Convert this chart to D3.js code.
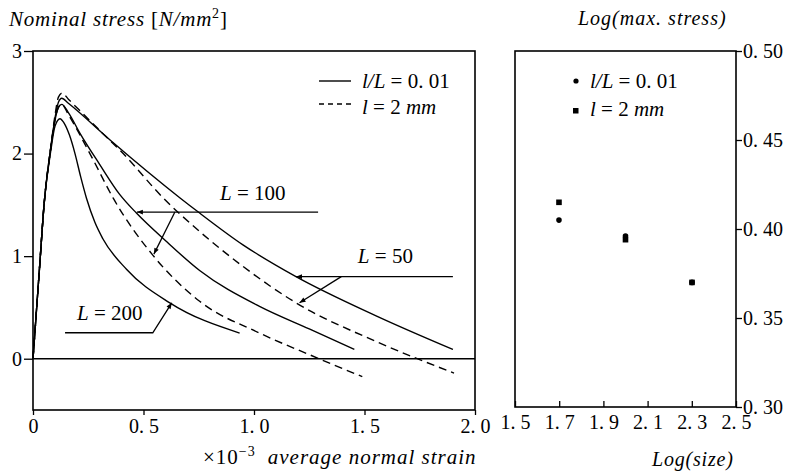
<!DOCTYPE html>
<html>
<head>
<meta charset="utf-8">
<script src="https://cdn.jsdelivr.net/npm/d3@7"></script>
<style>
  body { margin: 0; background: #fff; }
  svg { display: block; font-family: 'Liberation Serif', 'Times New Roman', serif; }
  .tick text { font-size: 20px; fill: #000; font-family: 'Liberation Serif', 'Times New Roman', serif; }
</style>
</head>
<body>
<div id="chart"></div>
<script>
// left panel: nominal stress vs average normal strain (x1e-3)
let strainTicks = [0, 0.5, 1.0, 1.5, 2.0]
let stressTicks = [0, 1, 2, 3]

// solid = l/L = 0.01, dashed = l = 2 mm (L=200 is the same for both)
let L50solid = [[0, 0], [0.03, 0.9], [0.05, 1.5], [0.08, 2.05], [0.1, 2.35], [0.115, 2.5], [0.13, 2.54], [0.16, 2.49], [0.35, 2.13], [0.664, 1.57], [0.754, 1.42], [0.95, 1.11], [1.19, 0.8], [1.55, 0.42], [1.9, 0.09]]
let L50dashed = [[0, 0], [0.03, 0.9], [0.05, 1.5], [0.08, 2.05], [0.1, 2.38], [0.115, 2.55], [0.132, 2.59], [0.16, 2.53], [0.3, 2.23], [0.408, 2.0], [0.588, 1.57], [0.754, 1.24], [0.95, 0.9], [1.19, 0.545], [1.55, 0.17], [1.905, -0.14]]
let L100solid = [[0, 0], [0.03, 0.9], [0.05, 1.5], [0.08, 2.05], [0.1, 2.33], [0.115, 2.45], [0.13, 2.48], [0.16, 2.4], [0.212, 2.2], [0.3, 1.9], [0.393, 1.6], [0.468, 1.42], [0.6, 1.15], [0.754, 0.86], [1.025, 0.51], [1.25, 0.29], [1.454, 0.09]]
let L100dashed = [[0, 0], [0.03, 0.9], [0.05, 1.5], [0.08, 2.05], [0.1, 2.33], [0.115, 2.45], [0.13, 2.48], [0.16, 2.38], [0.272, 1.94], [0.363, 1.565], [0.542, 1.01], [0.754, 0.56], [1.025, 0.25], [1.25, 0.04], [1.49, -0.175]]
let L200 = [[0, 0], [0.03, 0.9], [0.05, 1.5], [0.08, 2.02], [0.1, 2.27], [0.122, 2.34], [0.14, 2.3], [0.165, 2.18], [0.19, 2.0], [0.215, 1.78], [0.242, 1.565], [0.28, 1.33], [0.316, 1.17], [0.424, 0.87], [0.619, 0.545], [0.935, 0.25]]

// right panel: log(max stress) vs log(size)
let sizeTicks = [1.5, 1.7, 1.9, 2.1, 2.3, 2.5]
let logStressTicks = [0.30, 0.35, 0.40, 0.45, 0.50]
let logSize = [1.699, 2.0, 2.301]
let logMaxRatio = [0.405, 0.396, 0.370]   // l/L = 0.01
let logMax2mm = [0.415, 0.394, 0.370]     // l = 2 mm

let width = 790, height = 471

let svg = d3.select('#chart').append('svg')
    .attr('width', width)
    .attr('height', height)

svg.append('rect').attr('width', width).attr('height', height).attr('fill', '#fff')

let defs = svg.append('defs')
defs.append('marker')
    .attr('id', 'arrow')
    .attr('viewBox', '0 0 10 10')
    .attr('refX', 10).attr('refY', 5)
    .attr('markerWidth', 8).attr('markerHeight', 6)
    .attr('markerUnits', 'userSpaceOnUse')
    .attr('orient', 'auto')
    .append('path')
    .attr('d', 'M0,1L10,5L0,9Z')
    .attr('fill', '#000')

// ---------- left panel ----------
let x = d3.scaleLinear().domain([0, 2]).range([33, 475])
let y = d3.scaleLinear().domain([-0.5, 3]).range([410, 51])

let left = svg.append('g')

left.append('rect')
    .attr('x', x(0)).attr('y', y(3))
    .attr('width', x(2) - x(0)).attr('height', y(-0.5) - y(3))
    .attr('fill', 'none').attr('stroke', '#000').attr('stroke-width', 1.6)

left.append('line')
    .attr('x1', x(0)).attr('x2', x(2))
    .attr('y1', y(0)).attr('y2', y(0))
    .attr('stroke', '#000').attr('stroke-width', 1.6)

let yAxis = g => g
    .attr('transform', `translate(${x(0)},0)`)
    .call(d3.axisLeft(y).tickValues(stressTicks).tickSize(9).tickPadding(2).tickFormat(d3.format('d')))
    .call(g => g.select('.domain').remove())
    .attr('font-family', null).attr('font-size', null)

let xAxis = g => g
    .attr('transform', `translate(0,${y(-0.5)})`)
    .call(d3.axisBottom(x).tickValues(strainTicks).tickSize(5).tickPadding(4)
        .tickFormat(d => d === 0 ? '0' : d.toFixed(1).replace('.', '. ')))
    .call(g => g.select('.domain').remove())
    .attr('font-family', null).attr('font-size', null)

left.append('g').call(yAxis)
left.append('g').call(xAxis)
left.selectAll('.tick line').attr('stroke-width', 1.3)

let line = d3.line()
    .x(d => x(d[0]))
    .y(d => y(d[1]))
    .curve(d3.curveMonotoneX)

let curves = [
    { pts: L50solid, dash: null },
    { pts: L50dashed, dash: '8,5' },
    { pts: L100solid, dash: null },
    { pts: L100dashed, dash: '8,5' },
    { pts: L200, dash: null }
]

left.append('g').attr('class', 'curves')
    .selectAll('path')
    .data(curves)
    .enter().append('path')
    .attr('d', d => line(d.pts))
    .attr('fill', 'none')
    .attr('stroke', '#000')
    .attr('stroke-width', 1.4)
    .attr('stroke-dasharray', d => d.dash)

// legend
let legend = left.append('g')
legend.append('line').attr('x1', 319).attr('x2', 351).attr('y1', 81).attr('y2', 81)
    .attr('stroke', '#000').attr('stroke-width', 1.4)
legend.append('line').attr('x1', 319).attr('x2', 351).attr('y1', 104).attr('y2', 104)
    .attr('stroke', '#000').attr('stroke-width', 1.4).attr('stroke-dasharray', '5,4')

function ratioLabel(sel) {
    sel.append('tspan').attr('font-style', 'italic').text('l/L')
    sel.append('tspan').text(' = 0. 01')
}
function mmLabel(sel) {
    sel.append('tspan').attr('font-style', 'italic').text('l')
    sel.append('tspan').text(' = 2 ')
    sel.append('tspan').attr('font-style', 'italic').text('mm')
}

legend.append('text').attr('x', 362).attr('y', 88).attr('font-size', 21).call(ratioLabel)
legend.append('text').attr('x', 362).attr('y', 114).attr('font-size', 21).call(mmLabel)

// L labels with leader arrows
let notes = left.append('g').attr('stroke', '#000').attr('stroke-width', 1.3).attr('fill', 'none')

function lLabel(px, py, value) {
    let t = left.append('text').attr('x', x(px)).attr('y', y(py)).attr('font-size', 21)
    t.append('tspan').attr('font-style', 'italic').text('L')
    t.append('tspan').text(' = ' + value)
}

// L = 100
lLabel(0.846, 1.545, '100')
notes.append('line').attr('x1', x(1.29)).attr('y1', y(1.43)).attr('x2', x(0.47)).attr('y2', y(1.43)).attr('marker-end', 'url(#arrow)')
notes.append('line').attr('x1', x(0.642)).attr('y1', y(1.43)).attr('x2', x(0.547)).attr('y2', y(1.02)).attr('marker-end', 'url(#arrow)')

// L = 50
lLabel(1.47, 0.93, '50')
notes.append('line').attr('x1', x(1.9)).attr('y1', y(0.8)).attr('x2', x(1.19)).attr('y2', y(0.8)).attr('marker-end', 'url(#arrow)')
notes.append('line').attr('x1', x(1.395)).attr('y1', y(0.8)).attr('x2', x(1.206)).attr('y2', y(0.545)).attr('marker-end', 'url(#arrow)')

// L = 200
lLabel(0.199, 0.38, '200')
notes.append('path')
    .attr('d', `M${x(0.145)},${y(0.253)}L${x(0.542)},${y(0.253)}L${x(0.628)},${y(0.545)}`)
    .attr('marker-end', 'url(#arrow)')

// axis titles
let yTitle = svg.append('text').attr('x', 9).attr('y', 26).attr('font-size', 21).attr('letter-spacing', 0.8)
yTitle.append('tspan').attr('font-style', 'italic').text('Nominal  stress ')
yTitle.append('tspan').text('[')
yTitle.append('tspan').attr('font-style', 'italic').text('N/mm')
yTitle.append('tspan').attr('font-size', 14).attr('dy', -8).text('2')
yTitle.append('tspan').attr('dy', 8).text(']')

let xTitle = svg.append('text').attr('x', 203).attr('y', 464).attr('font-size', 21).attr('letter-spacing', 1)
xTitle.append('tspan').text('×10')
xTitle.append('tspan').attr('font-size', 14).attr('dy', -8).text('−3')
xTitle.append('tspan').attr('dy', 8).attr('dx', 12).attr('font-style', 'italic').text('average  normal  strain')

// ---------- right panel ----------
let x2 = d3.scaleLinear().domain([1.5, 2.5]).range([515, 736])
let y2 = d3.scaleLinear().domain([0.30, 0.50]).range([407, 51])

let right = svg.append('g')

right.append('rect')
    .attr('x', x2(1.5)).attr('y', y2(0.5))
    .attr('width', x2(2.5) - x2(1.5)).attr('height', y2(0.3) - y2(0.5))
    .attr('fill', 'none').attr('stroke', '#000').attr('stroke-width', 1.6)

right.append('g')
    .attr('transform', `translate(${x2(2.5)},0)`)
    .call(d3.axisRight(y2).tickValues(logStressTicks).tickSize(6).tickPadding(1)
        .tickFormat(d => d.toFixed(2).replace('.', '. ')))
    .call(g => g.select('.domain').remove())
    .attr('font-family', null).attr('font-size', null)

right.append('g')
    .attr('transform', `translate(0,${y2(0.3)})`)
    .call(d3.axisBottom(x2).tickValues(sizeTicks).tickSizeInner(-6).tickSizeOuter(0).tickPadding(8)
        .tickFormat(d => d.toFixed(1).replace('.', '. ')))
    .call(g => g.select('.domain').remove())
    .attr('font-family', null).attr('font-size', null)

right.selectAll('.tick line').attr('stroke-width', 1.3)

right.append('g').selectAll('circle')
    .data(logSize)
    .enter().append('circle')
    .attr('cx', d => x2(d))
    .attr('cy', (d, i) => y2(logMaxRatio[i]))
    .attr('r', 2.8)
    .attr('fill', '#000')

right.append('g').selectAll('rect')
    .data(logSize)
    .enter().append('rect')
    .attr('x', d => x2(d) - 2.8)
    .attr('y', (d, i) => y2(logMax2mm[i]) - 2.8)
    .attr('width', 5.6).attr('height', 5.6)
    .attr('fill', '#000')

// right legend
right.append('circle').attr('cx', 576).attr('cy', 81).attr('r', 2.6).attr('fill', '#000')
right.append('rect').attr('x', 573).attr('y', 108).attr('width', 5.5).attr('height', 5.5).attr('fill', '#000')
right.append('text').attr('x', 590).attr('y', 88).attr('font-size', 21).call(ratioLabel)
right.append('text').attr('x', 590).attr('y', 116).attr('font-size', 21).call(mmLabel)

svg.append('text').attr('x', 578).attr('y', 25).attr('font-size', 20).attr('font-style', 'italic')
    .attr('letter-spacing', 1)
    .text('Log(max.  stress)')
svg.append('text').attr('x', 652).attr('y', 466).attr('font-size', 20).attr('font-style', 'italic')
    .attr('letter-spacing', 0.8)
    .text('Log(size)')
</script>
</body>
</html>
